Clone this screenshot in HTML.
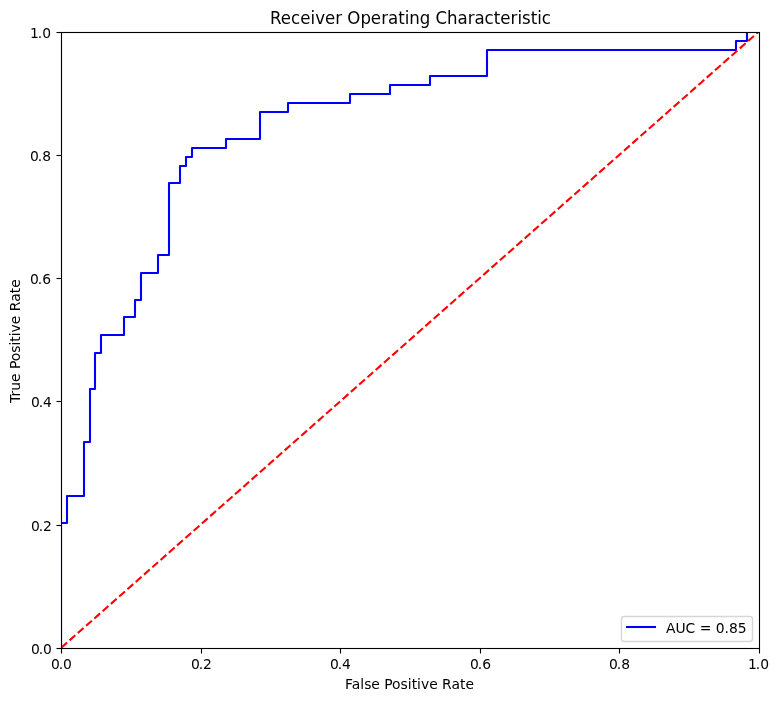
<!DOCTYPE html>
<html lang="en"><head><meta charset="utf-8"><title>Receiver Operating Characteristic</title>
<style>
html,body{margin:0;padding:0;background:#fff;}
body{width:779px;height:701px;overflow:hidden;}
svg{display:block;}
text{font-family:"DejaVu Sans","Liberation Sans",sans-serif;fill:#000;white-space:pre;}
.t10{font-size:13.889px;}
.t12{font-size:16.667px;}
</style></head><body>
<svg width="779" height="701" viewBox="0 0 779 701">
<rect width="779" height="701" fill="#fff"/>
<defs><clipPath id="ax"><rect x="61" y="32" width="698" height="616"/></clipPath></defs>
<g clip-path="url(#ax)">
<path d="M61 648L61 523L67 523L67 496L84 496L84 442L90 442L90 389L95 389L95 353L101 353L101 335L124 335L124 317L135 317L135 300L141 300L141 273L158 273L158 255L169 255L169 183L180 183L180 166L186 166L186 157L192 157L192 148L226 148L226 139L260 139L260 112L288 112L288 103L350 103L350 94L390 94L390 85L430 85L430 76L487 76L487 50L736 50L736 41L747 41L747 32L759 32" fill="none" stroke="#0000ff" stroke-width="2.083" stroke-linecap="square" stroke-linejoin="round"/>
<path d="M61.25 647.7L758.75 31.7" fill="none" stroke="#ff0000" stroke-width="2.083" stroke-dasharray="7.708 3.333"/>
</g>
<g stroke="#000" stroke-width="1.111" fill="none">
<path d="M61.5 648.5V653.5"/><path d="M201.5 648.5V653.5"/><path d="M340.5 648.5V653.5"/><path d="M480.5 648.5V653.5"/><path d="M619.5 648.5V653.5"/><path d="M759.5 648.5V653.5"/>
<path d="M61.5 648.5H56.5"/><path d="M61.5 525.5H56.5"/><path d="M61.5 401.5H56.5"/><path d="M61.5 278.5H56.5"/><path d="M61.5 155.5H56.5"/><path d="M61.5 32.5H56.5"/>
<rect x="61.5" y="32.5" width="698" height="616"/>
</g>
<text id="xt0" class="t10" transform="translate(61 668.5)" x="-10.04 -2.23 1.95">0.0</text>
<text id="xt1" class="t10" transform="translate(201 668.5)" x="-10.04 -2.23 1.95">0.2</text>
<text id="xt2" class="t10" transform="translate(340 668.5)" x="-10.04 -2.23 1.95">0.4</text>
<text id="xt3" class="t10" transform="translate(480 668.5)" x="-10.04 -2.23 2.2">0.6</text>
<text id="xt4" class="t10" transform="translate(619 668.5)" x="-10.04 -2.23 2.2">0.8</text>
<text id="xt5" class="t10" transform="translate(759 668.5)" x="-11.04 -3.23 1.2">1.0</text>
<text id="yt0" class="t10" transform="translate(52.05 653.5)" x="-21.08 -13.27 -9.09">0.0</text>
<text id="yt1" class="t10" transform="translate(52.05 530.5)" x="-21.08 -13.27 -9.09">0.2</text>
<text id="yt2" class="t10" transform="translate(52.05 406.5)" x="-21.08 -13.27 -9.09">0.4</text>
<text id="yt3" class="t10" transform="translate(52.05 283.5)" x="-22.08 -14.27 -9.84">0.6</text>
<text id="yt4" class="t10" transform="translate(52.05 160.5)" x="-22.08 -14.27 -9.84">0.8</text>
<text id="yt5" class="t10" transform="translate(52.05 37.5)" x="-22.08 -14.27 -9.84">1.0</text>
<text id="title" class="t12" transform="translate(410.5 23.5) scale(0.996 1.04)" x="-140.96 -130.39 -119.89 -110.72 -100.46 -95.6 -85.73 -75.48 -68.87 -63.57 -50.2 -39.88 -29.38 -22.52 -12.32 -5.78 -1.15 9.41 19.73 25.04 36.67 47.23 57.45 64.3 74.27 83.68 90.21 100.46 107.31 111.94 120.63 127.17 131.78">Receiver Operating Characteristic</text>
<text id="xlabel" class="t10" transform="translate(409.5 688.55)" x="-64.48 -57.77 -49.27 -45.16 -38.2 -29.65 -25.24 -17.62 -9.13 -1.65 2.2 7.38 11.49 19.71 28.24 32.4 41.99 50.49 55.93">False Positive Rate</text>
<text id="ylabel" class="t10" transform="translate(19.55 341.15) rotate(-90)" x="-61.8 -55.38 -49.67 -40.88 -32.33 -27.92 -20.05 -11.56 -4.33 -0.73 4.97 8.56 17.03 25.56 29.97 39.31 47.81 53.5">True Positive Rate</text>
<rect x="621.5" y="616.5" width="131" height="25" rx="2.78" ry="2.78" fill="#fff" fill-opacity="0.8" stroke="#ccc" stroke-opacity="0.8" stroke-width="1.389"/>
<path d="M627 627H655" stroke="#0000ff" stroke-width="2.083" stroke-linecap="square" fill="none"/>
<text id="legtext" class="t10" transform="translate(665.9 632.5)" x="0 9.73 19.64 29.33 33.98 45.36 49.78 58.61 63.02 71.84">AUC = 0.85</text>
</svg>
</body></html>
